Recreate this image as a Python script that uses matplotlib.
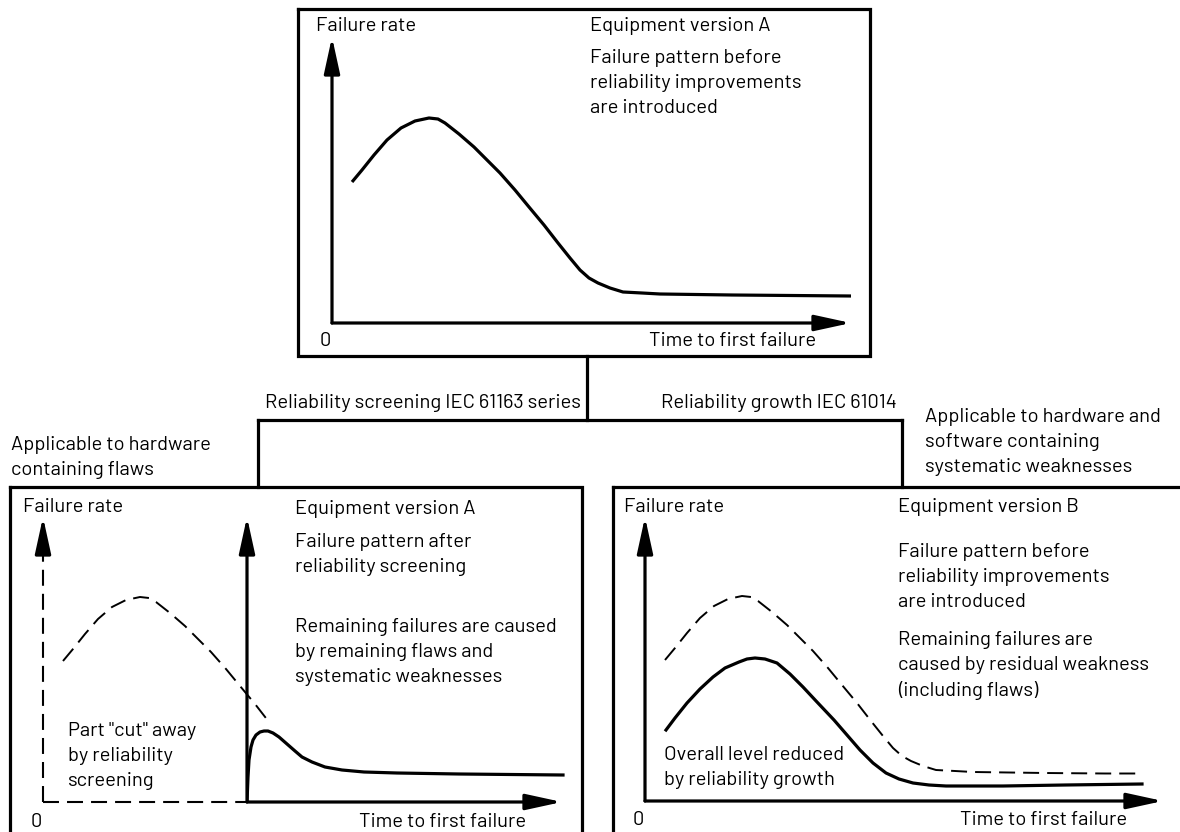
import matplotlib
matplotlib.use('Agg')
from matplotlib import pyplot as plt

plt.rcParams['font.family'] = ['Barlow', 'DejaVu Sans']
plt.rcParams['lines.scale_dashes'] = False

W, H = 1180, 832

# failure rate curves, (time, rate) in panel units
# pattern before improvements (version A, also dashed reference in lower panels)
base_t = [20, 30, 42, 55, 69, 83, 97, 106, 113, 127, 142, 155, 168, 183, 197, 212,
          226, 238, 248, 257, 266, 278, 291, 310, 328, 400, 460, 519]
base_r = [141, 153, 168, 183, 195, 202, 205, 204, 200, 189, 176, 163, 150, 133, 116, 98,
          80, 65, 53, 45, 40, 35, 31, 30, 29, 28, 27.5, 27]
# after screening (left panel, time measured from the new origin)
screen_t = [0, 1, 2, 4, 6, 9, 13, 17, 21, 26, 32, 40, 48, 55, 65, 78, 95, 117, 150, 212, 316]
screen_r = [0, 25, 42, 55, 62, 67, 70, 71, 71, 69, 65, 58, 51, 45, 40, 35, 32, 30, 29, 28, 27]
# after reliability growth (version B)
growth_t = [21, 30, 42, 55, 68, 80, 94, 102, 110, 120, 132, 145, 158, 172, 189, 202,
            215, 228, 241, 254, 268, 284, 301, 358, 420, 497]
growth_r = [71, 83, 98, 112, 124, 133, 139, 142, 143, 142, 138, 127, 114, 99, 81, 66,
            51, 38, 28, 22, 18, 16, 15, 15, 16, 17]
cut_end = 230   # dashed reference stops here in the screening panel
growth_end = 497

fig = plt.figure(figsize=(W / 100, H / 100), dpi=100)
bg = fig.add_axes([0, 0, 1, 1])
bg.set_xlim(0, W)
bg.set_ylim(H, 0)
bg.axis('off')

LW = 2.3
DASH = (0, (11.5, 5.8))
FS = 14.5


def box(x0, y0, x1, y1):
    bg.plot([x0, x1, x1, x0, x0], [y0, y0, y1, y1, y0], color='black', lw=LW,
            solid_joinstyle='miter', clip_on=False)


def arrow(x0, y0, x1, y1):
    bg.annotate('', xy=(x1, y1), xytext=(x0, y0),
                arrowprops=dict(arrowstyle='-|>,head_length=22,head_width=4.8',
                                mutation_scale=1, lw=LW,
                                color='black', shrinkA=0, shrinkB=0))


def lines(x, y, txt, step=25, **kw):
    for i, s in enumerate(txt):
        bg.text(x, y + i * step, s, fontsize=FS, va='center', **kw)


def panel(ox, oy):
    ax = fig.add_axes([ox / W, 1 - oy / H, 520 / W, 285 / H])
    ax.set_xlim(0, 520)
    ax.set_ylim(0, 285)
    ax.axis('off')
    ax.patch.set_alpha(0)
    return ax


# boxes and connectors
box(298, 9, 870, 356)
box(10, 487, 582, 845)
box(613, 487, 1190, 845)
bg.plot([587, 587], [356, 420], color='black', lw=LW)
bg.plot([258, 902], [420, 420], color='black', lw=LW, solid_capstyle='projecting')
bg.plot([258, 258], [420, 487], color='black', lw=LW)
bg.plot([902, 902], [420, 487], color='black', lw=LW)

# top panel
arrow(332, 323, 332, 37)
arrow(332, 323, 851, 323)
ax = panel(332, 323)
ax.plot(base_t, base_r, color='black', lw=LW, solid_capstyle='butt', solid_joinstyle='round')
bg.text(316, 26, 'Failure rate', fontsize=FS, va='center')
lines(590, 26, ['Equipment version A'])
lines(590, 58, ['Failure pattern before', 'reliability improvements', 'are introduced'])
bg.text(320, 341, '0', fontsize=FS, va='center')
bg.text(816, 341, 'Time to first failure', fontsize=FS, va='center', ha='right')

bg.text(581, 403, 'Reliability screening IEC 61163 series', fontsize=FS, va='center', ha='right')
bg.text(661, 403, 'Reliability growth IEC 61014', fontsize=FS, va='center')
lines(11, 445, ['Applicable to hardware', 'containing flaws'])
lines(925, 417, ['Applicable to hardware and', 'software containing', 'systematic weaknesses'])

# left panel (screening)
bg.plot([43, 43], [802, 547], color='black', lw=1.5, linestyle=DASH)
bg.plot([43, 247], [802, 802], color='black', lw=1.5, linestyle=DASH)
arrow(43, 545, 43, 517)
arrow(247, 802, 247, 517)
arrow(247, 802, 562, 802)
ax = panel(43, 802)
ax.plot([t for t in base_t if t <= cut_end], [r for t, r in zip(base_t, base_r) if t <= cut_end],
        color='black', lw=1.4, linestyle=DASH)
ax = panel(247, 802)
ax.plot(screen_t, screen_r, color='black', lw=LW, solid_joinstyle='round')
bg.text(23, 507, 'Failure rate', fontsize=FS, va='center')
lines(295, 509, ['Equipment version A'])
lines(295, 542, ['Failure pattern after', 'reliability screening'])
lines(295, 627, ['Remaining failures are caused', 'by remaining flaws and', 'systematic weaknesses'])
lines(68, 731, ['Part "cut" away', 'by reliability', 'screening'])
bg.text(31, 822, '0', fontsize=FS, va='center')
bg.text(526, 822, 'Time to first failure', fontsize=FS, va='center', ha='right')

# right panel (growth)
arrow(645, 801, 645, 517)
arrow(645, 801, 1163, 801)
ax = panel(645, 801)
ax.plot([t for t in base_t if t <= growth_end] + [growth_end],
        [r for t, r in zip(base_t, base_r) if t <= growth_end] + [27.5],
        color='black', lw=1.4, linestyle=DASH)
ax.plot(growth_t, growth_r, color='black', lw=LW, solid_joinstyle='round')
bg.text(624, 507, 'Failure rate', fontsize=FS, va='center')
lines(898, 507, ['Equipment version B'])
lines(898, 552, ['Failure pattern before', 'reliability improvements', 'are introduced'])
lines(898, 640, ['Remaining failures are', 'caused by residual weakness', '(including flaws)'])
lines(664, 755, ['Overall level reduced', 'by reliability growth'])
bg.text(633, 820, '0', fontsize=FS, va='center')
bg.text(1127, 820, 'Time to first failure', fontsize=FS, va='center', ha='right')

fig.savefig('out.png', dpi=100)
